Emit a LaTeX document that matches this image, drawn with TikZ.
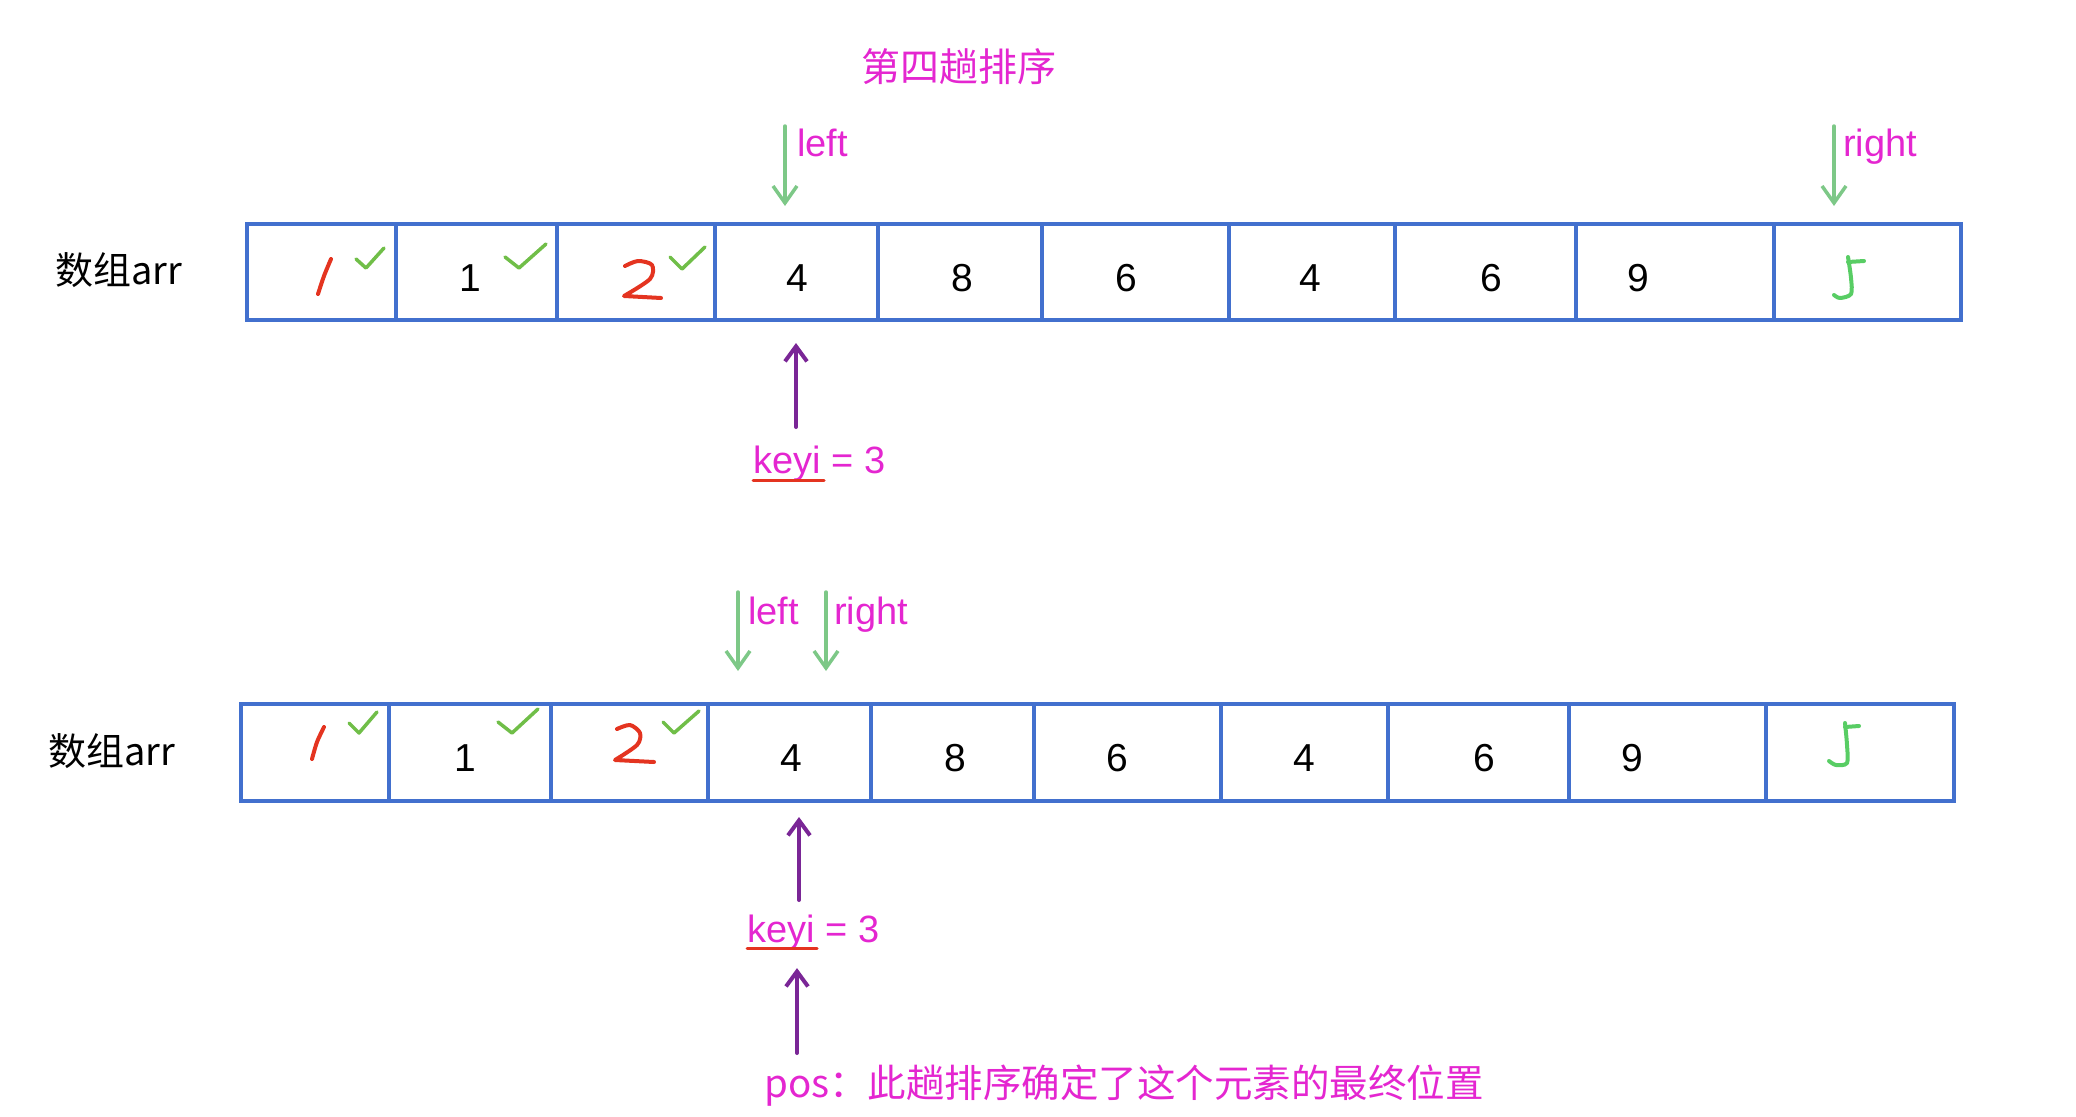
\documentclass[tikz,border=0pt]{standalone}
\usepackage{fontspec}
\newfontfamily\cjk{Noto Sans CJK SC}
\newfontfamily\latn{Liberation Sans}
\usepackage{tikz}
\usetikzlibrary{arrows.meta, positioning, calc}
\usepackage{xcolor}
\definecolor{boxblue}{RGB}{66,112,206}
\definecolor{tagpink}{RGB}{228,38,208}
\definecolor{ptrgreen}{RGB}{125,200,135}
\definecolor{keypurple}{RGB}{122,38,150}
\definecolor{inkred}{RGB}{228,52,32}
\definecolor{tickgreen}{RGB}{112,190,72}
\definecolor{fivegreen}{RGB}{88,205,100}

\tikzset{
  cell/.style={draw=boxblue, line width=4pt, minimum height=96pt, inner sep=0pt},
  num/.style={font={\latn\fontsize{39}{44}\selectfont}, inner sep=0pt},
  tag/.style={font={\latn\fontsize{38}{44}\selectfont}, text=tagpink, anchor=base west, inner sep=0pt},
  arrname/.style={font={\cjk\fontsize{38}{44}\selectfont}, inner sep=0pt},
  gptr/.style={draw=ptrgreen, line width=3.5pt, line cap=round, -{Straight Barb[length=17pt,width=24pt,line width=3.5pt]}},
  kptr/.style={draw=keypurple, line width=4pt, line cap=round, -{Straight Barb[length=15pt,width=22pt,line width=4pt]}},
  redink/.style={draw=inkred, line width=4pt, line cap=round, line join=round},
  tick/.style={draw=tickgreen, line width=3.5pt, line cap=round, line join=round},
  fiveink/.style={draw=fivegreen, line width=4pt, line cap=round, line join=round}
}

\begin{document}
\begin{tikzpicture}[x=1pt, y=-1pt]
\useasboundingbox (0,0) rectangle (2076,1116);

% title
\node[font={\cjk\fontsize{39}{44}\selectfont}, text=tagpink, inner sep=0pt] (title) at (959,67) {第四趟排序};

% first array
\node[arrname] (arrA) at (119,270) {数组arr};
\foreach \i/\xa/\xb in {1/247/396, 2/396/557, 3/557/715, 4/715/878, 5/878/1042,
                        6/1042/1229, 7/1229/1395, 8/1395/1576, 9/1576/1774, 10/1774/1961}
  \node[cell, minimum width={(\xb-\xa)*1pt}] (t\i) at ({(\xa+\xb)/2},272) {};
\foreach \i/\xv/\v in {2/470/1, 4/797/4, 5/962/8, 6/1126/6, 7/1310/4, 8/1491/6, 9/1638/9}
  \node[num] (tv\i) at (\xv,278) {\v};

% handwritten marks, first array
\draw[redink] plot[smooth] coordinates {(318,294) (324,276) (331,259)};
\draw[tick] (356,259) -- (366,268) -- (384,248);
\draw[tick] (505,257) -- (519,268) -- (546,244);
\draw[redink] plot[smooth] coordinates {(625,266) (638,261) (652,265) (650,279) (624,296)} -- (661,298);
\draw[tick] (670,257) -- (682,269) -- (705,247);
\draw[fiveink] plot[smooth] coordinates {(1848,257) (1851,278) (1851,294) (1840,298) (1834,295)};
\draw[fiveink] (1848,262) -- (1864,261);

% pointers, first array
\node[tag] (leftA) at (797,156) {left};
\node[tag] (rightA) at (1843,156) {right};
\coordinate (lA) at (785,126);
\coordinate (rA) at (1834,126);
\draw[gptr, shorten >=16pt] (lA) -- (lA |- t4.north);
\draw[gptr, shorten >=16pt] (rA) -- (rA |- t10.north);

\node[tag] (keyA) at (753,473) {keyi = 3};
\draw[redink, line width=3pt] (753,480) -- (824,480);
\coordinate (kA) at (796,427);
\draw[kptr, shorten >=21pt] (kA) -- (kA |- t4.south);

% second array
\node[arrname] (arrB) at (112,751) {数组arr};
\foreach \i/\xa/\xb in {1/241/389, 2/389/551, 3/551/708, 4/708/871, 5/871/1034,
                        6/1034/1221, 7/1221/1388, 8/1388/1569, 9/1569/1766, 10/1766/1954}
  \node[cell, minimum width={(\xb-\xa)*1pt}, minimum height=97pt] (b\i) at ({(\xa+\xb)/2},752.5) {};
\foreach \i/\xv/\v in {2/465/1, 4/791/4, 5/955/8, 6/1117/6, 7/1304/4, 8/1484/6, 9/1632/9}
  \node[num] (bv\i) at (\xv,758) {\v};

% handwritten marks, second array
\draw[redink] plot[smooth] coordinates {(312,759) (317,742) (324,727)};
\draw[tick] (349,723) -- (359,733) -- (377,712);
\draw[tick] (498,722) -- (512,733) -- (538,709);
\draw[redink] plot[smooth] coordinates {(617,729) (630,725) (640,733) (637,745) (615,760)} -- (654,762);
\draw[tick] (663,722) -- (674,733) -- (699,711);
\draw[fiveink] plot[smooth] coordinates {(1845,723) (1847,745) (1847,763) (1836,765) (1829,761)};
\draw[fiveink] (1845,727) -- (1859,726);

% pointers, second array
\node[tag] (leftB) at (748,624) {left};
\node[tag] (rightB) at (834,624) {right};
\coordinate (lB) at (738,592);
\coordinate (rB) at (826,592);
\draw[gptr, shorten >=31pt] (lB) -- (lB |- b4.north);
\draw[gptr, shorten >=31pt] (rB) -- (rB |- b4.north);

\node[tag] (keyB) at (747,942) {keyi = 3};
\draw[redink, line width=3pt] (747,948) -- (817,948);
\coordinate (kB) at (799,900);
\draw[kptr, shorten >=14pt] (kB) -- (kB |- b4.south);

\node[tag, font={\cjk\fontsize{38.5}{44}\selectfont}, anchor=west] (pos) at (764,1086) {pos：此趟排序确定了这个元素的最终位置};
\coordinate (pB) at (797,1053);
\draw[kptr, shorten >=18pt] (pB) -- (pB |- keyB.south);
\end{tikzpicture}
\end{document}
